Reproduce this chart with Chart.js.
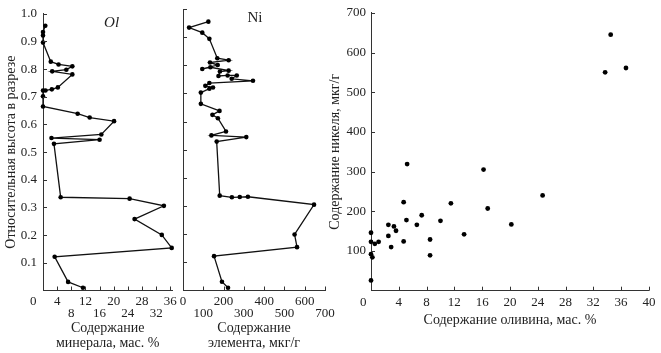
<!DOCTYPE html>
<html><head><meta charset="utf-8">
<script src="https://cdn.jsdelivr.net/npm/chart.js@4/dist/chart.umd.min.js"></script>
<style>
html,body{margin:0;padding:0;background:#fff;}
#wrap{position:relative;width:661px;height:353px;overflow:hidden;}
canvas{position:absolute;left:0;top:0;}
</style></head><body>
<div id="wrap">
<canvas id="c1" width="661" height="353"></canvas>
<canvas id="c2" width="661" height="353"></canvas>
<canvas id="c3" width="661" height="353"></canvas>
</div>
<script>
// ---- data ----
const olHeight = [0.957,0.934,0.922,0.896,0.827,0.817,0.810,0.798,0.792,0.781,0.734,0.727,0.723,0.723,0.702,0.665,0.639,0.625,0.612,0.564,0.551,0.545,0.530,0.337,0.332,0.306,0.258,0.201,0.154,0.122,0.031,0.010];
const olValue  = [0.65,0,0,0,2.2,4.4,8.3,6.6,2.6,8.3,4.2,2.5,0.7,0,0,0,9.8,13.2,20.1,16.5,2.4,16.0,3.1,5.0,24.5,34.2,25.9,33.6,36.4,3.3,7.1,11.3];

const niHeight = [0.955,0.934,0.916,0.894,0.825,0.818,0.810,0.801,0.787,0.793,0.781,0.778,0.762,0.764,0.764,0.752,0.745,0.737,0.727,0.721,0.717,0.703,0.663,0.638,0.624,0.612,0.565,0.551,0.545,0.529,0.337,0.331,0.332,0.333,0.305,0.199,0.154,0.122,0.031,0.010];
const niValue  = [125,30,95,130,169,225,133,171,95,135,225,182,175,220,265,240,345,130,110,148,130,88,88,180,145,172,212,140,312,166,181,241,280,320,646,550,562,153,192,222];

const scatterOl = [5.2,16.2,33.7,34.5,36.7,4.7,11.5,24.7,16.8,7.3,5.1,10.0,2.5,3.3,6.6,20.2,3.6,0.0,2.5,13.4,8.5,0.0,1.1,0.55,4.7,2.9,0.0,0.2,8.5,0.0];
const scatterNi = [319,305,550,645,561,223,220,240,207,190,178,176,166,162,166,167,151,146,138,142,129,123,123,118,124,110,92,84,89,26];

const heightTicks = [0.1,0.2,0.3,0.4,0.5,0.6,0.7,0.8,0.9,1.0];
const heightTickLabels = ['0.1','0.2','0.3','0.4','0.5','0.6','0.7','0.8','0.9','1.0'];
const olTicks = [0,4,8,12,16,20,24,28,32,36];
const olTickLabels = ['0\u2003\u2002','4','8','12','16','20','24','28','32','36'];
const olTickRows = [1,1,2,1,2,1,2,1,2,1];
const niTicks = [0,100,200,300,400,500,600,700];
const niTickLabels = ['0','100','200','300','400','500','600','700'];
const niTickRows = [1,2,1,2,1,2,1,2];
const scTicksX = [0,4,8,12,16,20,24,28,32,36,40];
const scTickLabelsX = ['0\u2003\u2009','4','8','12','16','20','24','28','32','36','40'];
const scTicksY = [100,200,300,400,500,600,700];
const scTickLabelsY = ['100','200','300','400','500','600','700'];

// ---- styling ----
const FONT = '"Liberation Serif","Times New Roman",serif';
Chart.defaults.font.family = FONT;
Chart.defaults.color = '#222';
const INK = '#333';

const innerTicks = {
  id: 'innerTicks',
  afterDraw(chart, args, opts) {
    const ctx = chart.ctx, a = chart.chartArea, sx = chart.scales.x, sy = chart.scales.y;
    ctx.save();
    ctx.strokeStyle = INK; ctx.lineWidth = 1;
    ctx.beginPath();
    (opts.xTicks || []).forEach(v => {
      const p = Math.round(sx.getPixelForValue(v)) + 0.5;
      ctx.moveTo(p, a.bottom); ctx.lineTo(p, a.bottom - 4);
    });
    (opts.yTicks || []).forEach(v => {
      const p = Math.round(sy.getPixelForValue(v)) + 0.5;
      ctx.moveTo(a.left, p); ctx.lineTo(a.left + 4, p);
    });
    ctx.stroke();
    if (opts.label) {
      ctx.fillStyle = '#222';
      ctx.font = (opts.label.italic ? 'italic ' : '') + '15px ' + FONT;
      ctx.textAlign = 'center'; ctx.textBaseline = 'middle';
      ctx.fillText(opts.label.text, sx.getPixelForValue(opts.label.x), sy.getPixelForValue(opts.label.y));
    }
    ctx.restore();
  }
};

function setTicks(arr) { return s => { s.ticks = arr.map(v => ({value: v})); }; }
function fixW(w) { return s => { s.width = w; }; }
function fixH(h) { return s => { s.height = h; }; }
function rowLabel(labels, rows) {
  return (val, i) => rows[i] === 2 ? ['', labels[i]] : labels[i];
}

const profileDataset = (xs, ys) => ({
  data: xs.map((v, i) => ({x: v, y: ys[i]})),
  showLine: true,
  borderColor: '#111', borderWidth: 1.3,
  pointRadius: 2.3, pointBackgroundColor: '#000', pointBorderWidth: 0,
  clip: false
});

const common = {
  responsive: false, animation: false,
  plugins: { legend: {display: false}, tooltip: {enabled: false} }
};

// Panel 1 : olivine profile
new Chart(document.getElementById('c1'), {
  type: 'scatter',
  data: { datasets: [profileDataset(olValue, olHeight)] },
  options: Object.assign({}, common, {
    layout: { padding: {left: 0, top: 9, right: 488.6, bottom: 0} },
    plugins: Object.assign({}, common.plugins, { innerTicks: {
      xTicks: olTicks.slice(1), yTicks: heightTicks, label: {text: 'Ol', italic: true, x: 19.4, y: 0.968} } }),
    scales: {
      x: {
        type: 'linear', min: 0, max: 36.6,
        afterBuildTicks: setTicks(olTicks), afterFit: fixH(62.5),
        grid: {display: false, drawTicks: false},
        border: {display: true, color: INK, width: 1},
        ticks: {padding: 5.6, autoSkip: false, maxRotation: 0, font: {size: 13, lineHeight: 0.9},
                callback: rowLabel(olTickLabels, olTickRows)},
        title: {display: true, text: ['Содержание', 'минерала, мас. %'], font: {size: 14, lineHeight: 1.07},
                padding: {top: 0, bottom: 2.2}}
      },
      y: {
        type: 'linear', min: 0, max: 1.0,
        afterBuildTicks: setTicks(heightTicks), afterFit: fixW(43),
        grid: {display: false, drawTicks: false},
        border: {display: true, color: INK, width: 1},
        ticks: {padding: 6, font: {size: 13}, callback: (v, i) => heightTickLabels[i]},
        title: {display: true, text: 'Относительная высота в разрезе', font: {size: 14, lineHeight: 1.2},
                padding: {top: 2.6, bottom: 0}}
      }
    }
  }),
  plugins: [innerTicks]
});

// Panel 2 : nickel profile
new Chart(document.getElementById('c2'), {
  type: 'scatter',
  data: { datasets: [profileDataset(niValue, niHeight)] },
  options: Object.assign({}, common, {
    layout: { padding: {left: 0, top: 9, right: 336, bottom: 0} },
    plugins: Object.assign({}, common.plugins, { innerTicks: {
      xTicks: niTicks.slice(1), yTicks: heightTicks, label: {text: 'Ni', italic: false, x: 355, y: 0.968} } }),
    scales: {
      x: {
        type: 'linear', min: 0, max: 700,
        afterBuildTicks: setTicks(niTicks), afterFit: fixH(62.5),
        grid: {display: false, drawTicks: false},
        border: {display: true, color: INK, width: 1},
        ticks: {padding: 5.6, autoSkip: false, maxRotation: 0, font: {size: 13, lineHeight: 0.9},
                callback: rowLabel(niTickLabels, niTickRows)},
        title: {display: true, text: ['Содержание', 'элемента, мкг/г'], font: {size: 14, lineHeight: 1.07},
                padding: {top: 0, bottom: 2.2}}
      },
      y: {
        type: 'linear', min: 0, max: 1.0,
        afterBuildTicks: setTicks(heightTicks), afterFit: fixW(183),
        grid: {display: false, drawTicks: false},
        border: {display: true, color: INK, width: 1},
        ticks: {display: false}
      }
    }
  }),
  plugins: [innerTicks]
});

// Panel 3 : scatter Ni vs Ol
new Chart(document.getElementById('c3'), {
  type: 'scatter',
  data: { datasets: [{
    data: scatterOl.map((v, i) => ({x: v, y: scatterNi[i]})),
    pointRadius: 2.4, pointBackgroundColor: '#000', pointBorderWidth: 0, clip: false
  }] },
  options: Object.assign({}, common, {
    layout: { padding: {left: 320, top: 9, right: 8, bottom: 0} },
    plugins: Object.assign({}, common.plugins, { innerTicks: {
      xTicks: scTicksX.slice(1), yTicks: scTicksY } }),
    scales: {
      x: {
        type: 'linear', min: 0, max: 40,
        afterBuildTicks: setTicks(scTicksX), afterFit: fixH(62.3),
        grid: {display: false, drawTicks: false},
        border: {display: true, color: INK, width: 1},
        ticks: {padding: 5.6, autoSkip: false, maxRotation: 0, font: {size: 13, lineHeight: 0.9},
                callback: (v, i) => scTickLabelsX[i]},
        title: {display: true, text: 'Содержание оливина, мас. %', font: {size: 14, lineHeight: 1.2},
                padding: {top: 0, bottom: 24.6}}
      },
      y: {
        type: 'linear', min: 0, max: 700,
        afterBuildTicks: setTicks(scTicksY), afterFit: fixW(51),
        grid: {display: false, drawTicks: false},
        border: {display: true, color: INK, width: 1},
        ticks: {padding: 5, font: {size: 13}, callback: (v, i) => scTickLabelsY[i]},
        title: {display: true, text: 'Содержание никеля, мкг/г', font: {size: 14, lineHeight: 1.2},
                padding: {top: 6.6, bottom: 0}}
      }
    }
  }),
  plugins: [innerTicks]
});
</script>
</body></html>
